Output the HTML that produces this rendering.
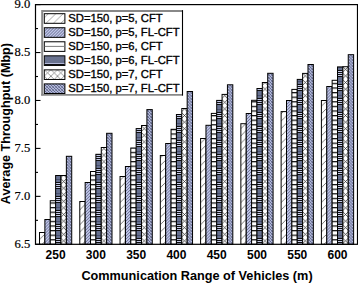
<!DOCTYPE html>
<html><head><meta charset="utf-8"><style>
html,body{margin:0;padding:0;background:#fff;}
svg{display:block;}
</style></head><body>
<svg width="358" height="283" viewBox="0 0 358 283">
<defs><pattern id="b00" patternUnits="userSpaceOnUse" x="42.20" y="0" width="7.4" height="7.4">
<rect width="7.4" height="7.4" fill="#fff"/>
<path d="M-1,8.4 L8.4,-1 M-1,1 L1,-1 M6.4,8.4 L8.4,6.4" stroke="#6a6a6a" stroke-width="0.9"/></pattern>
<pattern id="b01" patternUnits="userSpaceOnUse" x="47.57" y="0" width="3.0" height="3.0">
<rect width="3.0" height="3.0" fill="#bfc5e8"/>
<path d="M-1,4.0 L4.0,-1 M-1,1 L1,-1 M2.0,4.0 L4.0,2.0" stroke="#5a6080" stroke-width="0.85"/></pattern>
<pattern id="b02" patternUnits="userSpaceOnUse" x="0" y="0" width="4.6" height="4.6">
<rect width="4.6" height="4.6" fill="#fff"/>
<rect y="0" width="4.6" height="1.25" fill="#111"/></pattern>
<pattern id="b03" patternUnits="userSpaceOnUse" x="0" y="0" width="14" height="14">
<rect width="14" height="14" fill="#66708f"/>
<rect y="0" width="14" height="1" fill="#111"/>
<rect y="1" width="14" height="1" fill="#c5cbea"/>
<rect y="2" width="14" height="1" fill="#111"/>
<rect y="3" width="14" height="1" fill="#c5cbea"/>
<rect y="4" width="14" height="1" fill="#111"/>
<rect y="5" width="14" height="1" fill="#c5cbea"/>
<rect y="6" width="14" height="1" fill="#111"/>
<rect y="11" width="14" height="1" fill="#4a5270"/>
</pattern>
<pattern id="b04" patternUnits="userSpaceOnUse" x="60.37" y="0.00" width="6.6" height="6.6">
<rect width="6.6" height="6.6" fill="#fff"/>
<path d="M-1,7.6 L7.6,-1 M-1,-1 L7.6,7.6" stroke="#2a2a2a" stroke-width="0.75"/></pattern>
<pattern id="b05" patternUnits="userSpaceOnUse" x="67.54" y="0" width="3.0" height="3.0">
<rect width="3.0" height="3.0" fill="#b6bce0"/>
<path d="M-1,4.0 L4.0,-1 M-1,1 L1,-1 M2.0,4.0 L4.0,2.0" stroke="#6a7190" stroke-width="0.6"/>
<path d="M-1,-1 L4.0,4.0 M-1,2.0 L1,4.0 M2.0,-1 L4.0,1" stroke="#4d5474" stroke-width="0.8"/></pattern>
<pattern id="b10" patternUnits="userSpaceOnUse" x="82.47" y="0" width="7.4" height="7.4">
<rect width="7.4" height="7.4" fill="#fff"/>
<path d="M-1,8.4 L8.4,-1 M-1,1 L1,-1 M6.4,8.4 L8.4,6.4" stroke="#6a6a6a" stroke-width="0.9"/></pattern>
<pattern id="b11" patternUnits="userSpaceOnUse" x="87.84" y="0" width="3.0" height="3.0">
<rect width="3.0" height="3.0" fill="#bfc5e8"/>
<path d="M-1,4.0 L4.0,-1 M-1,1 L1,-1 M2.0,4.0 L4.0,2.0" stroke="#5a6080" stroke-width="0.85"/></pattern>
<pattern id="b12" patternUnits="userSpaceOnUse" x="0" y="0" width="4.6" height="4.6">
<rect width="4.6" height="4.6" fill="#fff"/>
<rect y="0" width="4.6" height="1.25" fill="#111"/></pattern>
<pattern id="b13" patternUnits="userSpaceOnUse" x="0" y="0" width="14" height="14">
<rect width="14" height="14" fill="#66708f"/>
<rect y="0" width="14" height="1" fill="#111"/>
<rect y="1" width="14" height="1" fill="#c5cbea"/>
<rect y="2" width="14" height="1" fill="#111"/>
<rect y="3" width="14" height="1" fill="#c5cbea"/>
<rect y="4" width="14" height="1" fill="#111"/>
<rect y="5" width="14" height="1" fill="#c5cbea"/>
<rect y="6" width="14" height="1" fill="#111"/>
<rect y="11" width="14" height="1" fill="#4a5270"/>
</pattern>
<pattern id="b14" patternUnits="userSpaceOnUse" x="100.64" y="0.00" width="6.6" height="6.6">
<rect width="6.6" height="6.6" fill="#fff"/>
<path d="M-1,7.6 L7.6,-1 M-1,-1 L7.6,7.6" stroke="#2a2a2a" stroke-width="0.75"/></pattern>
<pattern id="b15" patternUnits="userSpaceOnUse" x="107.81" y="0" width="3.0" height="3.0">
<rect width="3.0" height="3.0" fill="#b6bce0"/>
<path d="M-1,4.0 L4.0,-1 M-1,1 L1,-1 M2.0,4.0 L4.0,2.0" stroke="#6a7190" stroke-width="0.6"/>
<path d="M-1,-1 L4.0,4.0 M-1,2.0 L1,4.0 M2.0,-1 L4.0,1" stroke="#4d5474" stroke-width="0.8"/></pattern>
<pattern id="b20" patternUnits="userSpaceOnUse" x="122.74" y="0" width="7.4" height="7.4">
<rect width="7.4" height="7.4" fill="#fff"/>
<path d="M-1,8.4 L8.4,-1 M-1,1 L1,-1 M6.4,8.4 L8.4,6.4" stroke="#6a6a6a" stroke-width="0.9"/></pattern>
<pattern id="b21" patternUnits="userSpaceOnUse" x="128.11" y="0" width="3.0" height="3.0">
<rect width="3.0" height="3.0" fill="#bfc5e8"/>
<path d="M-1,4.0 L4.0,-1 M-1,1 L1,-1 M2.0,4.0 L4.0,2.0" stroke="#5a6080" stroke-width="0.85"/></pattern>
<pattern id="b22" patternUnits="userSpaceOnUse" x="0" y="0" width="4.6" height="4.6">
<rect width="4.6" height="4.6" fill="#fff"/>
<rect y="0" width="4.6" height="1.25" fill="#111"/></pattern>
<pattern id="b23" patternUnits="userSpaceOnUse" x="0" y="0" width="14" height="14">
<rect width="14" height="14" fill="#66708f"/>
<rect y="0" width="14" height="1" fill="#111"/>
<rect y="1" width="14" height="1" fill="#c5cbea"/>
<rect y="2" width="14" height="1" fill="#111"/>
<rect y="3" width="14" height="1" fill="#c5cbea"/>
<rect y="4" width="14" height="1" fill="#111"/>
<rect y="5" width="14" height="1" fill="#c5cbea"/>
<rect y="6" width="14" height="1" fill="#111"/>
<rect y="11" width="14" height="1" fill="#4a5270"/>
</pattern>
<pattern id="b24" patternUnits="userSpaceOnUse" x="140.91" y="0.00" width="6.6" height="6.6">
<rect width="6.6" height="6.6" fill="#fff"/>
<path d="M-1,7.6 L7.6,-1 M-1,-1 L7.6,7.6" stroke="#2a2a2a" stroke-width="0.75"/></pattern>
<pattern id="b25" patternUnits="userSpaceOnUse" x="148.08" y="0" width="3.0" height="3.0">
<rect width="3.0" height="3.0" fill="#b6bce0"/>
<path d="M-1,4.0 L4.0,-1 M-1,1 L1,-1 M2.0,4.0 L4.0,2.0" stroke="#6a7190" stroke-width="0.6"/>
<path d="M-1,-1 L4.0,4.0 M-1,2.0 L1,4.0 M2.0,-1 L4.0,1" stroke="#4d5474" stroke-width="0.8"/></pattern>
<pattern id="b30" patternUnits="userSpaceOnUse" x="163.01" y="0" width="7.4" height="7.4">
<rect width="7.4" height="7.4" fill="#fff"/>
<path d="M-1,8.4 L8.4,-1 M-1,1 L1,-1 M6.4,8.4 L8.4,6.4" stroke="#6a6a6a" stroke-width="0.9"/></pattern>
<pattern id="b31" patternUnits="userSpaceOnUse" x="168.38" y="0" width="3.0" height="3.0">
<rect width="3.0" height="3.0" fill="#bfc5e8"/>
<path d="M-1,4.0 L4.0,-1 M-1,1 L1,-1 M2.0,4.0 L4.0,2.0" stroke="#5a6080" stroke-width="0.85"/></pattern>
<pattern id="b32" patternUnits="userSpaceOnUse" x="0" y="0" width="4.6" height="4.6">
<rect width="4.6" height="4.6" fill="#fff"/>
<rect y="0" width="4.6" height="1.25" fill="#111"/></pattern>
<pattern id="b33" patternUnits="userSpaceOnUse" x="0" y="0" width="14" height="14">
<rect width="14" height="14" fill="#66708f"/>
<rect y="0" width="14" height="1" fill="#111"/>
<rect y="1" width="14" height="1" fill="#c5cbea"/>
<rect y="2" width="14" height="1" fill="#111"/>
<rect y="3" width="14" height="1" fill="#c5cbea"/>
<rect y="4" width="14" height="1" fill="#111"/>
<rect y="5" width="14" height="1" fill="#c5cbea"/>
<rect y="6" width="14" height="1" fill="#111"/>
<rect y="11" width="14" height="1" fill="#4a5270"/>
</pattern>
<pattern id="b34" patternUnits="userSpaceOnUse" x="181.18" y="0.00" width="6.6" height="6.6">
<rect width="6.6" height="6.6" fill="#fff"/>
<path d="M-1,7.6 L7.6,-1 M-1,-1 L7.6,7.6" stroke="#2a2a2a" stroke-width="0.75"/></pattern>
<pattern id="b35" patternUnits="userSpaceOnUse" x="188.35" y="0" width="3.0" height="3.0">
<rect width="3.0" height="3.0" fill="#b6bce0"/>
<path d="M-1,4.0 L4.0,-1 M-1,1 L1,-1 M2.0,4.0 L4.0,2.0" stroke="#6a7190" stroke-width="0.6"/>
<path d="M-1,-1 L4.0,4.0 M-1,2.0 L1,4.0 M2.0,-1 L4.0,1" stroke="#4d5474" stroke-width="0.8"/></pattern>
<pattern id="b40" patternUnits="userSpaceOnUse" x="203.28" y="0" width="7.4" height="7.4">
<rect width="7.4" height="7.4" fill="#fff"/>
<path d="M-1,8.4 L8.4,-1 M-1,1 L1,-1 M6.4,8.4 L8.4,6.4" stroke="#6a6a6a" stroke-width="0.9"/></pattern>
<pattern id="b41" patternUnits="userSpaceOnUse" x="208.65" y="0" width="3.0" height="3.0">
<rect width="3.0" height="3.0" fill="#bfc5e8"/>
<path d="M-1,4.0 L4.0,-1 M-1,1 L1,-1 M2.0,4.0 L4.0,2.0" stroke="#5a6080" stroke-width="0.85"/></pattern>
<pattern id="b42" patternUnits="userSpaceOnUse" x="0" y="0" width="4.6" height="4.6">
<rect width="4.6" height="4.6" fill="#fff"/>
<rect y="0" width="4.6" height="1.25" fill="#111"/></pattern>
<pattern id="b43" patternUnits="userSpaceOnUse" x="0" y="0" width="14" height="14">
<rect width="14" height="14" fill="#66708f"/>
<rect y="0" width="14" height="1" fill="#111"/>
<rect y="1" width="14" height="1" fill="#c5cbea"/>
<rect y="2" width="14" height="1" fill="#111"/>
<rect y="3" width="14" height="1" fill="#c5cbea"/>
<rect y="4" width="14" height="1" fill="#111"/>
<rect y="5" width="14" height="1" fill="#c5cbea"/>
<rect y="6" width="14" height="1" fill="#111"/>
<rect y="11" width="14" height="1" fill="#4a5270"/>
</pattern>
<pattern id="b44" patternUnits="userSpaceOnUse" x="221.45" y="0.00" width="6.6" height="6.6">
<rect width="6.6" height="6.6" fill="#fff"/>
<path d="M-1,7.6 L7.6,-1 M-1,-1 L7.6,7.6" stroke="#2a2a2a" stroke-width="0.75"/></pattern>
<pattern id="b45" patternUnits="userSpaceOnUse" x="228.62" y="0" width="3.0" height="3.0">
<rect width="3.0" height="3.0" fill="#b6bce0"/>
<path d="M-1,4.0 L4.0,-1 M-1,1 L1,-1 M2.0,4.0 L4.0,2.0" stroke="#6a7190" stroke-width="0.6"/>
<path d="M-1,-1 L4.0,4.0 M-1,2.0 L1,4.0 M2.0,-1 L4.0,1" stroke="#4d5474" stroke-width="0.8"/></pattern>
<pattern id="b50" patternUnits="userSpaceOnUse" x="243.55" y="0" width="7.4" height="7.4">
<rect width="7.4" height="7.4" fill="#fff"/>
<path d="M-1,8.4 L8.4,-1 M-1,1 L1,-1 M6.4,8.4 L8.4,6.4" stroke="#6a6a6a" stroke-width="0.9"/></pattern>
<pattern id="b51" patternUnits="userSpaceOnUse" x="248.92" y="0" width="3.0" height="3.0">
<rect width="3.0" height="3.0" fill="#bfc5e8"/>
<path d="M-1,4.0 L4.0,-1 M-1,1 L1,-1 M2.0,4.0 L4.0,2.0" stroke="#5a6080" stroke-width="0.85"/></pattern>
<pattern id="b52" patternUnits="userSpaceOnUse" x="0" y="0" width="4.6" height="4.6">
<rect width="4.6" height="4.6" fill="#fff"/>
<rect y="0" width="4.6" height="1.25" fill="#111"/></pattern>
<pattern id="b53" patternUnits="userSpaceOnUse" x="0" y="0" width="14" height="14">
<rect width="14" height="14" fill="#66708f"/>
<rect y="0" width="14" height="1" fill="#111"/>
<rect y="1" width="14" height="1" fill="#c5cbea"/>
<rect y="2" width="14" height="1" fill="#111"/>
<rect y="3" width="14" height="1" fill="#c5cbea"/>
<rect y="4" width="14" height="1" fill="#111"/>
<rect y="5" width="14" height="1" fill="#c5cbea"/>
<rect y="6" width="14" height="1" fill="#111"/>
<rect y="11" width="14" height="1" fill="#4a5270"/>
</pattern>
<pattern id="b54" patternUnits="userSpaceOnUse" x="261.72" y="0.00" width="6.6" height="6.6">
<rect width="6.6" height="6.6" fill="#fff"/>
<path d="M-1,7.6 L7.6,-1 M-1,-1 L7.6,7.6" stroke="#2a2a2a" stroke-width="0.75"/></pattern>
<pattern id="b55" patternUnits="userSpaceOnUse" x="268.89" y="0" width="3.0" height="3.0">
<rect width="3.0" height="3.0" fill="#b6bce0"/>
<path d="M-1,4.0 L4.0,-1 M-1,1 L1,-1 M2.0,4.0 L4.0,2.0" stroke="#6a7190" stroke-width="0.6"/>
<path d="M-1,-1 L4.0,4.0 M-1,2.0 L1,4.0 M2.0,-1 L4.0,1" stroke="#4d5474" stroke-width="0.8"/></pattern>
<pattern id="b60" patternUnits="userSpaceOnUse" x="283.82" y="0" width="7.4" height="7.4">
<rect width="7.4" height="7.4" fill="#fff"/>
<path d="M-1,8.4 L8.4,-1 M-1,1 L1,-1 M6.4,8.4 L8.4,6.4" stroke="#6a6a6a" stroke-width="0.9"/></pattern>
<pattern id="b61" patternUnits="userSpaceOnUse" x="289.19" y="0" width="3.0" height="3.0">
<rect width="3.0" height="3.0" fill="#bfc5e8"/>
<path d="M-1,4.0 L4.0,-1 M-1,1 L1,-1 M2.0,4.0 L4.0,2.0" stroke="#5a6080" stroke-width="0.85"/></pattern>
<pattern id="b62" patternUnits="userSpaceOnUse" x="0" y="0" width="4.6" height="4.6">
<rect width="4.6" height="4.6" fill="#fff"/>
<rect y="0" width="4.6" height="1.25" fill="#111"/></pattern>
<pattern id="b63" patternUnits="userSpaceOnUse" x="0" y="0" width="14" height="14">
<rect width="14" height="14" fill="#66708f"/>
<rect y="0" width="14" height="1" fill="#111"/>
<rect y="1" width="14" height="1" fill="#c5cbea"/>
<rect y="2" width="14" height="1" fill="#111"/>
<rect y="3" width="14" height="1" fill="#c5cbea"/>
<rect y="4" width="14" height="1" fill="#111"/>
<rect y="5" width="14" height="1" fill="#c5cbea"/>
<rect y="6" width="14" height="1" fill="#111"/>
<rect y="11" width="14" height="1" fill="#4a5270"/>
</pattern>
<pattern id="b64" patternUnits="userSpaceOnUse" x="301.99" y="0.00" width="6.6" height="6.6">
<rect width="6.6" height="6.6" fill="#fff"/>
<path d="M-1,7.6 L7.6,-1 M-1,-1 L7.6,7.6" stroke="#2a2a2a" stroke-width="0.75"/></pattern>
<pattern id="b65" patternUnits="userSpaceOnUse" x="309.16" y="0" width="3.0" height="3.0">
<rect width="3.0" height="3.0" fill="#b6bce0"/>
<path d="M-1,4.0 L4.0,-1 M-1,1 L1,-1 M2.0,4.0 L4.0,2.0" stroke="#6a7190" stroke-width="0.6"/>
<path d="M-1,-1 L4.0,4.0 M-1,2.0 L1,4.0 M2.0,-1 L4.0,1" stroke="#4d5474" stroke-width="0.8"/></pattern>
<pattern id="b70" patternUnits="userSpaceOnUse" x="324.09" y="0" width="7.4" height="7.4">
<rect width="7.4" height="7.4" fill="#fff"/>
<path d="M-1,8.4 L8.4,-1 M-1,1 L1,-1 M6.4,8.4 L8.4,6.4" stroke="#6a6a6a" stroke-width="0.9"/></pattern>
<pattern id="b71" patternUnits="userSpaceOnUse" x="329.46" y="0" width="3.0" height="3.0">
<rect width="3.0" height="3.0" fill="#bfc5e8"/>
<path d="M-1,4.0 L4.0,-1 M-1,1 L1,-1 M2.0,4.0 L4.0,2.0" stroke="#5a6080" stroke-width="0.85"/></pattern>
<pattern id="b72" patternUnits="userSpaceOnUse" x="0" y="0" width="4.6" height="4.6">
<rect width="4.6" height="4.6" fill="#fff"/>
<rect y="0" width="4.6" height="1.25" fill="#111"/></pattern>
<pattern id="b73" patternUnits="userSpaceOnUse" x="0" y="0" width="14" height="14">
<rect width="14" height="14" fill="#66708f"/>
<rect y="0" width="14" height="1" fill="#111"/>
<rect y="1" width="14" height="1" fill="#c5cbea"/>
<rect y="2" width="14" height="1" fill="#111"/>
<rect y="3" width="14" height="1" fill="#c5cbea"/>
<rect y="4" width="14" height="1" fill="#111"/>
<rect y="5" width="14" height="1" fill="#c5cbea"/>
<rect y="6" width="14" height="1" fill="#111"/>
<rect y="11" width="14" height="1" fill="#4a5270"/>
</pattern>
<pattern id="b74" patternUnits="userSpaceOnUse" x="342.26" y="0.00" width="6.6" height="6.6">
<rect width="6.6" height="6.6" fill="#fff"/>
<path d="M-1,7.6 L7.6,-1 M-1,-1 L7.6,7.6" stroke="#2a2a2a" stroke-width="0.75"/></pattern>
<pattern id="b75" patternUnits="userSpaceOnUse" x="349.43" y="0" width="3.0" height="3.0">
<rect width="3.0" height="3.0" fill="#b6bce0"/>
<path d="M-1,4.0 L4.0,-1 M-1,1 L1,-1 M2.0,4.0 L4.0,2.0" stroke="#6a7190" stroke-width="0.6"/>
<path d="M-1,-1 L4.0,4.0 M-1,2.0 L1,4.0 M2.0,-1 L4.0,1" stroke="#4d5474" stroke-width="0.8"/></pattern>
<pattern id="l0" patternUnits="userSpaceOnUse" x="54.60" y="0" width="7.4" height="7.4">
<rect width="7.4" height="7.4" fill="#fff"/>
<path d="M-1,8.4 L8.4,-1 M-1,1 L1,-1 M6.4,8.4 L8.4,6.4" stroke="#9a9a9a" stroke-width="0.9"/></pattern>
<pattern id="l1" patternUnits="userSpaceOnUse" x="54.60" y="0" width="3.0" height="3.0">
<rect width="3.0" height="3.0" fill="#bfc5e8"/>
<path d="M-1,4.0 L4.0,-1 M-1,1 L1,-1 M2.0,4.0 L4.0,2.0" stroke="#5a6080" stroke-width="0.85"/></pattern>
<pattern id="l4" patternUnits="userSpaceOnUse" x="44.30" y="69.60" width="6.6" height="6.6">
<rect width="6.6" height="6.6" fill="#fff"/>
<path d="M-1,7.6 L7.6,-1 M-1,-1 L7.6,7.6" stroke="#707070" stroke-width="0.7"/></pattern>
<pattern id="l5" patternUnits="userSpaceOnUse" x="53.10" y="0" width="3.0" height="3.0">
<rect width="3.0" height="3.0" fill="#b6bce0"/>
<path d="M-1,4.0 L4.0,-1 M-1,1 L1,-1 M2.0,4.0 L4.0,2.0" stroke="#6a7190" stroke-width="0.6"/>
<path d="M-1,-1 L4.0,4.0 M-1,2.0 L1,4.0 M2.0,-1 L4.0,1" stroke="#4d5474" stroke-width="0.8"/></pattern></defs>
<rect width="358" height="283" fill="#fff"/>
<rect x="39.51" y="232.50" width="5.37" height="11.80" fill="url(#b00)" stroke="#000" stroke-width="1"/>
<rect x="44.88" y="219.50" width="5.37" height="24.80" fill="url(#b01)" stroke="#000" stroke-width="1"/>
<rect x="50.25" y="200.70" width="5.37" height="43.60" fill="url(#b02)" stroke="#000" stroke-width="1"/>
<rect x="55.62" y="175.50" width="5.37" height="68.80" fill="url(#b03)" stroke="#000" stroke-width="1"/>
<rect x="60.99" y="175.50" width="5.37" height="68.80" fill="url(#b04)" stroke="#000" stroke-width="1"/>
<rect x="66.36" y="156.30" width="5.37" height="88.00" fill="url(#b05)" stroke="#000" stroke-width="1"/>
<rect x="79.78" y="201.50" width="5.37" height="42.80" fill="url(#b10)" stroke="#000" stroke-width="1"/>
<rect x="85.15" y="182.50" width="5.37" height="61.80" fill="url(#b11)" stroke="#000" stroke-width="1"/>
<rect x="90.52" y="171.50" width="5.37" height="72.80" fill="url(#b12)" stroke="#000" stroke-width="1"/>
<rect x="95.89" y="154.30" width="5.37" height="90.00" fill="url(#b13)" stroke="#000" stroke-width="1"/>
<rect x="101.26" y="147.50" width="5.37" height="96.80" fill="url(#b14)" stroke="#000" stroke-width="1"/>
<rect x="106.63" y="133.30" width="5.37" height="111.00" fill="url(#b15)" stroke="#000" stroke-width="1"/>
<rect x="120.05" y="176.50" width="5.37" height="67.80" fill="url(#b20)" stroke="#000" stroke-width="1"/>
<rect x="125.42" y="166.50" width="5.37" height="77.80" fill="url(#b21)" stroke="#000" stroke-width="1"/>
<rect x="130.79" y="148.00" width="5.37" height="96.30" fill="url(#b22)" stroke="#000" stroke-width="1"/>
<rect x="136.16" y="128.60" width="5.37" height="115.70" fill="url(#b23)" stroke="#000" stroke-width="1"/>
<rect x="141.53" y="125.50" width="5.37" height="118.80" fill="url(#b24)" stroke="#000" stroke-width="1"/>
<rect x="146.90" y="109.60" width="5.37" height="134.70" fill="url(#b25)" stroke="#000" stroke-width="1"/>
<rect x="160.32" y="155.50" width="5.37" height="88.80" fill="url(#b30)" stroke="#000" stroke-width="1"/>
<rect x="165.69" y="143.50" width="5.37" height="100.80" fill="url(#b31)" stroke="#000" stroke-width="1"/>
<rect x="171.06" y="129.30" width="5.37" height="115.00" fill="url(#b32)" stroke="#000" stroke-width="1"/>
<rect x="176.43" y="114.50" width="5.37" height="129.80" fill="url(#b33)" stroke="#000" stroke-width="1"/>
<rect x="181.80" y="108.50" width="5.37" height="135.80" fill="url(#b34)" stroke="#000" stroke-width="1"/>
<rect x="187.17" y="91.50" width="5.37" height="152.80" fill="url(#b35)" stroke="#000" stroke-width="1"/>
<rect x="200.59" y="138.50" width="5.37" height="105.80" fill="url(#b40)" stroke="#000" stroke-width="1"/>
<rect x="205.96" y="125.30" width="5.37" height="119.00" fill="url(#b41)" stroke="#000" stroke-width="1"/>
<rect x="211.33" y="113.40" width="5.37" height="130.90" fill="url(#b42)" stroke="#000" stroke-width="1"/>
<rect x="216.70" y="100.40" width="5.37" height="143.90" fill="url(#b43)" stroke="#000" stroke-width="1"/>
<rect x="222.07" y="94.40" width="5.37" height="149.90" fill="url(#b44)" stroke="#000" stroke-width="1"/>
<rect x="227.44" y="84.80" width="5.37" height="159.50" fill="url(#b45)" stroke="#000" stroke-width="1"/>
<rect x="240.86" y="123.70" width="5.37" height="120.60" fill="url(#b50)" stroke="#000" stroke-width="1"/>
<rect x="246.23" y="113.50" width="5.37" height="130.80" fill="url(#b51)" stroke="#000" stroke-width="1"/>
<rect x="251.60" y="100.30" width="5.37" height="144.00" fill="url(#b52)" stroke="#000" stroke-width="1"/>
<rect x="256.97" y="88.50" width="5.37" height="155.80" fill="url(#b53)" stroke="#000" stroke-width="1"/>
<rect x="262.34" y="82.50" width="5.37" height="161.80" fill="url(#b54)" stroke="#000" stroke-width="1"/>
<rect x="267.71" y="73.30" width="5.37" height="171.00" fill="url(#b55)" stroke="#000" stroke-width="1"/>
<rect x="281.13" y="111.60" width="5.37" height="132.70" fill="url(#b60)" stroke="#000" stroke-width="1"/>
<rect x="286.50" y="100.50" width="5.37" height="143.80" fill="url(#b61)" stroke="#000" stroke-width="1"/>
<rect x="291.87" y="89.40" width="5.37" height="154.90" fill="url(#b62)" stroke="#000" stroke-width="1"/>
<rect x="297.24" y="79.40" width="5.37" height="164.90" fill="url(#b63)" stroke="#000" stroke-width="1"/>
<rect x="302.61" y="73.40" width="5.37" height="170.90" fill="url(#b64)" stroke="#000" stroke-width="1"/>
<rect x="307.98" y="64.50" width="5.37" height="179.80" fill="url(#b65)" stroke="#000" stroke-width="1"/>
<rect x="321.40" y="100.50" width="5.37" height="143.80" fill="url(#b70)" stroke="#000" stroke-width="1"/>
<rect x="326.77" y="86.50" width="5.37" height="157.80" fill="url(#b71)" stroke="#000" stroke-width="1"/>
<rect x="332.14" y="80.30" width="5.37" height="164.00" fill="url(#b72)" stroke="#000" stroke-width="1"/>
<rect x="337.51" y="66.90" width="5.37" height="177.40" fill="url(#b73)" stroke="#000" stroke-width="1"/>
<rect x="342.88" y="66.70" width="5.37" height="177.60" fill="url(#b74)" stroke="#000" stroke-width="1"/>
<rect x="348.25" y="54.70" width="5.37" height="189.60" fill="url(#b75)" stroke="#000" stroke-width="1"/>
<rect x="35.5" y="4.6" width="322.0" height="239.70000000000002" fill="none" stroke="#000" stroke-width="1.2"/>
<line x1="35.5" y1="244.30" x2="40.5" y2="244.30" stroke="#000" stroke-width="1.1"/>
<text x="30.3" y="248.10" text-anchor="end" font-family="Liberation Serif" font-size="12.6" stroke="#000" stroke-width="0.2">6.5</text>
<line x1="35.5" y1="220.33" x2="38.0" y2="220.33" stroke="#000" stroke-width="1.1"/>
<line x1="35.5" y1="196.36" x2="40.5" y2="196.36" stroke="#000" stroke-width="1.1"/>
<text x="30.3" y="200.16" text-anchor="end" font-family="Liberation Serif" font-size="12.6" stroke="#000" stroke-width="0.2">7.0</text>
<line x1="35.5" y1="172.39" x2="38.0" y2="172.39" stroke="#000" stroke-width="1.1"/>
<line x1="35.5" y1="148.42" x2="40.5" y2="148.42" stroke="#000" stroke-width="1.1"/>
<text x="30.3" y="152.22" text-anchor="end" font-family="Liberation Serif" font-size="12.6" stroke="#000" stroke-width="0.2">7.5</text>
<line x1="35.5" y1="124.45" x2="38.0" y2="124.45" stroke="#000" stroke-width="1.1"/>
<line x1="35.5" y1="100.48" x2="40.5" y2="100.48" stroke="#000" stroke-width="1.1"/>
<text x="30.3" y="104.28" text-anchor="end" font-family="Liberation Serif" font-size="12.6" stroke="#000" stroke-width="0.2">8.0</text>
<line x1="35.5" y1="76.51" x2="38.0" y2="76.51" stroke="#000" stroke-width="1.1"/>
<line x1="35.5" y1="52.54" x2="40.5" y2="52.54" stroke="#000" stroke-width="1.1"/>
<text x="30.3" y="56.34" text-anchor="end" font-family="Liberation Serif" font-size="12.6" stroke="#000" stroke-width="0.2">8.5</text>
<line x1="35.5" y1="28.57" x2="38.0" y2="28.57" stroke="#000" stroke-width="1.1"/>
<line x1="35.5" y1="4.60" x2="40.5" y2="4.60" stroke="#000" stroke-width="1.1"/>
<text x="30.3" y="8.40" text-anchor="end" font-family="Liberation Serif" font-size="12.6" stroke="#000" stroke-width="0.2">9.0</text>
<text x="55.62" y="258.7" text-anchor="middle" font-family="Liberation Sans" font-weight="bold" font-size="12">250</text>
<text x="95.89" y="258.7" text-anchor="middle" font-family="Liberation Sans" font-weight="bold" font-size="12">300</text>
<text x="136.16" y="258.7" text-anchor="middle" font-family="Liberation Sans" font-weight="bold" font-size="12">350</text>
<text x="176.43" y="258.7" text-anchor="middle" font-family="Liberation Sans" font-weight="bold" font-size="12">400</text>
<text x="216.70" y="258.7" text-anchor="middle" font-family="Liberation Sans" font-weight="bold" font-size="12">450</text>
<text x="256.97" y="258.7" text-anchor="middle" font-family="Liberation Sans" font-weight="bold" font-size="12">500</text>
<text x="297.24" y="258.7" text-anchor="middle" font-family="Liberation Sans" font-weight="bold" font-size="12">550</text>
<text x="337.51" y="258.7" text-anchor="middle" font-family="Liberation Sans" font-weight="bold" font-size="12">600</text>
<text x="197" y="280.2" text-anchor="middle" font-family="Liberation Sans" font-weight="bold" font-size="12.7">Communication Range of Vehicles (m)</text>
<text transform="translate(9.7,123.6) rotate(-90)" text-anchor="middle" font-family="Liberation Sans" font-weight="bold" font-size="12.6">Average Throughput (Mbp)</text>
<rect x="41.2" y="10.1" width="141.3" height="84.8" fill="#fff" stroke="none"/>
<path d="M42.2,95.5 L42.2,11.1 L182,11.1" fill="none" stroke="#888" stroke-width="2"/>
<path d="M41.2,94.9 L182,94.9" fill="none" stroke="#888" stroke-width="1.6"/>
<path d="M182.5,10.1 L182.5,95.7" fill="none" stroke="#000" stroke-width="1.1"/>
<rect x="44.3" y="13.70" width="20.6" height="9.6" fill="url(#l0)" stroke="#000" stroke-width="1"/>
<text x="68.3" y="21.70" font-family="Liberation Sans" font-size="11.25" stroke="#000" stroke-width="0.35">SD=150, p=5, CFT</text>
<rect x="44.3" y="27.74" width="20.6" height="9.6" fill="url(#l1)" stroke="#000" stroke-width="1"/>
<text x="68.3" y="35.74" font-family="Liberation Sans" font-size="11.25" stroke="#000" stroke-width="0.35">SD=150, p=5, FL-CFT</text>
<rect x="44.3" y="41.78" width="20.6" height="9.6" fill="#fff" stroke="#000" stroke-width="1"/>
<rect x="44.8" y="45.88" width="19.6" height="1.1" fill="#888"/>
<text x="68.3" y="49.78" font-family="Liberation Sans" font-size="11.25" stroke="#000" stroke-width="0.35">SD=150, p=6, CFT</text>
<rect x="44.3" y="55.82" width="20.6" height="9.6" fill="#69728f" stroke="#000" stroke-width="1"/>
<rect x="44.8" y="63.22" width="19.6" height="0.9" fill="#c8cdee"/>
<rect x="44.8" y="64.12" width="19.6" height="1.0" fill="#000"/>
<text x="68.3" y="63.82" font-family="Liberation Sans" font-size="11.25" stroke="#000" stroke-width="0.35">SD=150, p=6, FL-CFT</text>
<rect x="44.3" y="69.86" width="20.6" height="9.6" fill="url(#l4)" stroke="#000" stroke-width="1"/>
<text x="68.3" y="77.86" font-family="Liberation Sans" font-size="11.25" stroke="#000" stroke-width="0.35">SD=150, p=7, CFT</text>
<rect x="44.3" y="83.90" width="20.6" height="9.6" fill="url(#l5)" stroke="#000" stroke-width="1"/>
<text x="68.3" y="91.90" font-family="Liberation Sans" font-size="11.25" stroke="#000" stroke-width="0.35">SD=150, p=7, FL-CFT</text>
</svg>
</body></html>
